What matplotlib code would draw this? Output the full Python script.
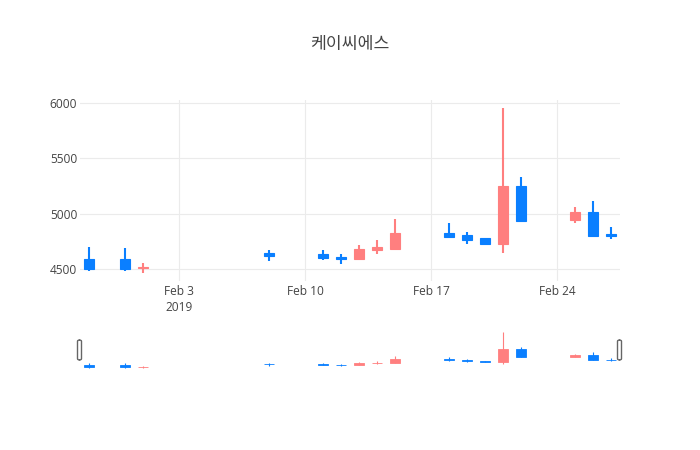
import matplotlib
matplotlib.use("Agg")
import matplotlib.pyplot as plt
import matplotlib.dates as mdates
from matplotlib.patches import FancyBboxPatch
import numpy as np
import datetime as dt

# daily prices
dates = ["2019-01-29", "2019-01-31", "2019-02-01", "2019-02-08", "2019-02-11",
         "2019-02-12", "2019-02-13", "2019-02-14", "2019-02-15", "2019-02-18",
         "2019-02-19", "2019-02-20", "2019-02-21", "2019-02-22", "2019-02-25",
         "2019-02-26", "2019-02-27"]
opens  = [4590, 4590, 4510, 4650, 4635, 4615, 4590, 4675, 4680, 4825,
          4810, 4780, 4725, 5250, 4945, 5015, 4820]
highs  = [4700, 4695, 4560, 4675, 4675, 4635, 4720, 4765, 4955, 4915,
          4835, 4780, 5950, 5335, 5065, 5115, 4880]
lows   = [4485, 4485, 4470, 4575, 4585, 4550, 4590, 4640, 4680, 4780,
          4730, 4720, 4650, 4940, 4920, 4805, 4770]
closes = [4500, 4500, 4520, 4620, 4600, 4590, 4685, 4700, 4825, 4790,
          4765, 4730, 5250, 4940, 5015, 4805, 4800]

title = "케이씨에스"
yticks = [4500, 5000, 5500, 6000]
xtick_dates = ["2019-02-03", "2019-02-10", "2019-02-17", "2019-02-24"]
xtick_labels = ["Feb 3\n2019", "Feb 10", "Feb 17", "Feb 24"]

UP = "#ff7f7f"
DOWN = "#0a7fff"

x = mdates.date2num([dt.datetime.strptime(d, "%Y-%m-%d") for d in dates])
o = np.array(opens, float)
h = np.array(highs, float)
l = np.array(lows, float)
c = np.array(closes, float)
cols = [UP if cc >= oo else DOWN for oo, cc in zip(o, c)]

xmin, xmax = x.min() - 0.5, x.max() + 0.5
span = h.max() - l.min()
ymin, ymax = l.min() - 0.05 * span, h.max() + 0.05 * span

plt.rcParams["font.family"] = ["Open Sans", "DejaVu Sans"]
fig = plt.figure(figsize=(7, 4.5), dpi=100)

W, H = 700.0, 450.0
ax = fig.add_axes([80 / W, (H - 281) / H, 540 / W, 181 / H])
sl = fig.add_axes([80 / W, (H - 370) / H, 540 / W, 40 / H])


def candles(a, lw, bw, elw):
    a.vlines(x, l, h, colors=cols, linewidth=lw, zorder=3)
    bottoms = np.minimum(o, c)
    heights = np.abs(c - o)
    a.bar(x, heights, width=bw, bottom=bottoms, color=cols, edgecolor=cols,
          linewidth=elw, zorder=4)


candles(ax, 1.5, 0.53, 0.8)
ax.set_xlim(xmin, xmax)
ax.set_ylim(ymin, ymax)
ax.set_yticks(yticks)
ax.set_yticklabels([str(v) for v in yticks])
ax.set_xticks(mdates.date2num([dt.datetime.strptime(d, "%Y-%m-%d") for d in xtick_dates]))
ax.set_xticklabels(xtick_labels)
ax.grid(True, color="#ebebeb", linewidth=0.8, zorder=0)
ax.set_axisbelow(True)
for s in ax.spines.values():
    s.set_visible(False)
ax.tick_params(axis="both", length=0, labelsize=8.6, labelcolor="#444444")
ax.tick_params(axis="y", pad=2)
ax.tick_params(axis="x", pad=3)
for lab in ax.get_xticklabels():
    lab.set_linespacing(1.3)

candles(sl, 0.8, 0.55, 0.6)
sl.set_xlim(xmin, xmax)
sl.set_ylim(ymin, ymax)
sl.set_xticks([])
sl.set_yticks([])
for s in sl.spines.values():
    s.set_visible(False)

# range slider grab handles
for hx in (80, 620):
    fig.patches.append(FancyBboxPatch(((hx - 2.5) / W, (H - 360) / H), 4 / W, 20 / H,
                                      boxstyle="round,pad=0,rounding_size=0.003",
                                      transform=fig.transFigure, facecolor="white",
                                      edgecolor="#666666", linewidth=1, zorder=10))

fig.text(350 / W, 1 - 44 / H, title, ha="center", va="center", fontsize=12.4,
         color="#444444", family=["Noto Sans CJK KR", "DejaVu Sans"])

fig.savefig("out.png", dpi=100)
